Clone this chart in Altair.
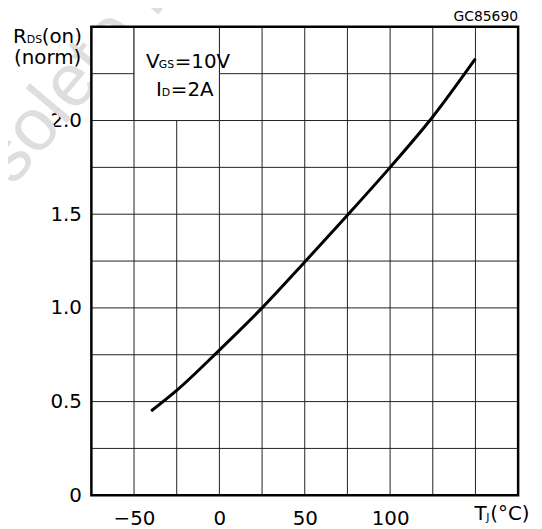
import altair as alt
import pandas as pd

# ---- data ----
temp_c = [-40, -25, 0, 25, 50, 75, 100, 125, 150]
rds_norm = [0.45, 0.56, 0.775, 1.0, 1.245, 1.495, 1.75, 2.02, 2.33]

x_domain = [-75, 175]
y_domain = [0, 2.5]
x_grid = [-50, -25, 0, 25, 50, 75, 100, 125, 150]
y_grid = [0.25, 0.5, 0.75, 1.0, 1.25, 1.5, 1.75, 2.0, 2.25]
x_ticks = [-50, 0, 50, 100]
y_ticks = [0, 0.5, 1.0, 1.5, 2.0]
box_x = [-50, 0]
box_y = [2.0, 2.5]

FONT = "DejaVu Sans"
W, H = 430, 472


def X(field):
    return alt.X(f"{field}:Q",
                 scale=alt.Scale(domain=x_domain, nice=False, zero=False),
                 axis=alt.Axis(values=x_ticks, format="d", ticks=False, tickSize=0,
                               domain=False, grid=False, labelFont=FONT, labelFontSize=20,
                               labelColor="black", labelPadding=29, labelBaseline="alphabetic",
                               labelOverlap=False, labelFlush=False, title=None))


def Y(field):
    return alt.Y(f"{field}:Q",
                 scale=alt.Scale(domain=y_domain, nice=False, zero=False),
                 axis=alt.Axis(values=y_ticks, ticks=False, tickSize=0, domain=False, grid=False,
                               labelExpr="datum.value == 0 ? '0' : format(datum.value, '.1f')",
                               labelFont=FONT, labelFontSize=20, labelColor="black",
                               labelPadding=10, labelOverlap=False, labelFlush=False, title=None))


one = pd.DataFrame({"k": [0]})

watermark = alt.Chart(one).mark_text(
    angle=310, fontSize=75, font="Liberation Sans", color="#dedede",
    align="left", baseline="alphabetic"
).encode(x=alt.value(-143), y=alt.value(238), text=alt.value("Obsolete Product(s)"))

area_df = pd.DataFrame({"x0": [x_domain[0]], "x1": [x_domain[1]],
                        "y0": [y_domain[0]], "y1": [y_domain[1]]})
plot_bg = alt.Chart(area_df).mark_rect(fill="white").encode(
    x=X("x0"), x2="x1", y=Y("y0"), y2="y1")

vgrid = alt.Chart(pd.DataFrame({"gx": x_grid})).mark_rule(
    color="#222222", strokeWidth=1).encode(x=X("gx"))
hgrid = alt.Chart(pd.DataFrame({"gy": y_grid})).mark_rule(
    color="#222222", strokeWidth=1).encode(y=Y("gy"))

box_df = pd.DataFrame({"bx0": [box_x[0]], "bx1": [box_x[1]],
                       "by0": [box_y[0]], "by1": [box_y[1]]})
box = alt.Chart(box_df).mark_rect(fill="white", stroke="#222222", strokeWidth=1).encode(
    x=X("bx0"), x2="bx1", y=Y("by0"), y2="by1")

frame = alt.Chart(area_df).mark_rect(fillOpacity=0, stroke="black", strokeWidth=2.5).encode(
    x=X("x0"), x2="x1", y=Y("y0"), y2="y1")

curve = alt.Chart(pd.DataFrame({"t": temp_c, "r": rds_norm})).mark_line(
    color="black", strokeWidth=3, interpolate="monotone").encode(x=X("t"), y=Y("r"))

# text pieces (main text / subscripts)
pieces = [
    ("R", -79, 16, 20, "left"),
    ("DS", -65, 16, 11, "left"),
    ("(on)", -50, 16, 20, "left"),
    ("(norm)", -44, 37, 20, "center"),
    ("V", 55, 41.5, 20, "left"),
    ("GS", 68, 41, 11, "left"),
    ("=10V", 84, 41.5, 20, "left"),
    ("I", 65, 70, 20, "left"),
    ("D", 71, 69.5, 11, "left"),
    ("=2A", 80, 70, 20, "left"),
    ("T", 386, 497, 20, "left"),
    ("J", 398, 498, 11, "left"),
    ("(°C)", 402, 497, 20, "left"),
    ("GC85690", 430, -6, 14, "right"),
]
text_layers = []
for txt, px, py, fs, al in pieces:
    text_layers.append(
        alt.Chart(one).mark_text(font=FONT, fontSize=fs, color="black", align=al,
                                 baseline="alphabetic").encode(
            x=alt.value(px), y=alt.value(py), text=alt.value(txt)))

chart = alt.layer(watermark, plot_bg, vgrid, hgrid, box, curve, frame, *text_layers).properties(
    width=W, height=H,
    autosize=alt.AutoSizeParams(type="none"),
    padding={"left": 84, "top": 17, "right": 16, "bottom": 32},
    background="white",
).configure_view(stroke=None)

chart.save("out.html", embed_options={"renderer": "svg", "actions": False})
